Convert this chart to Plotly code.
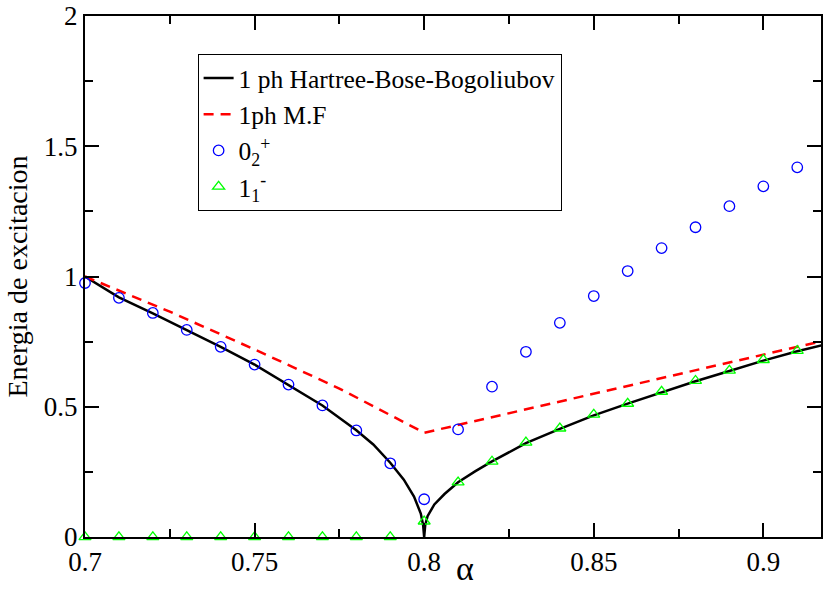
import plotly.graph_objects as go

# Excitation energy vs alpha
alpha_pts = [0.70, 0.71, 0.72, 0.73, 0.74, 0.75, 0.76, 0.77, 0.78, 0.79, 0.80,
             0.81, 0.82, 0.83, 0.84, 0.85, 0.86, 0.87, 0.88, 0.89, 0.90, 0.91]

# 0_2^+ state
e_02plus = [0.975, 0.918, 0.860, 0.795, 0.730, 0.662, 0.585, 0.505, 0.409, 0.283, 0.145,
            0.413, 0.577, 0.711, 0.822, 0.925, 1.021, 1.109, 1.189, 1.270, 1.346, 1.419]

# 1_1^- state
e_11minus = [0.0, 0.0, 0.0, 0.0, 0.0, 0.0, 0.0, 0.0, 0.0, 0.0, 0.06,
             0.21, 0.29, 0.363, 0.417, 0.47, 0.512, 0.558, 0.60, 0.639, 0.68, 0.715]

# 1 ph Hartree-Bose-Bogoliubov curve
hbb_alpha = [0.70, 0.71, 0.72, 0.73, 0.74, 0.75, 0.76, 0.77, 0.78, 0.785, 0.79, 0.794,
             0.797, 0.799, 0.7997, 0.80, 0.8003, 0.801, 0.803, 0.806, 0.81, 0.815,
             0.82, 0.83, 0.84, 0.85, 0.86, 0.87, 0.88, 0.89, 0.90, 0.91, 0.92]
hbb_energy = [1.0, 0.92, 0.858, 0.795, 0.73, 0.662, 0.585, 0.505, 0.41, 0.355, 0.285, 0.22,
              0.155, 0.09, 0.045, 0.0, 0.045, 0.08, 0.125, 0.165, 0.21, 0.252,
              0.29, 0.36, 0.415, 0.467, 0.512, 0.556, 0.598, 0.637, 0.677, 0.713, 0.745]

# 1ph mean-field curve
mf_alpha = [0.70, 0.725, 0.75, 0.775, 0.80, 0.84, 0.88, 0.92]
mf_energy = [1.0, 0.865, 0.72, 0.57, 0.40, 0.52, 0.64, 0.76]

FONT = "Liberation Serif, Times New Roman, serif"

fig = go.Figure()
fig.add_trace(go.Scatter(
    x=hbb_alpha, y=hbb_energy, mode="lines",
    line=dict(color="black", width=2.5),
    name="1 ph Hartree-Bose-Bogoliubov"))
fig.add_trace(go.Scatter(
    x=mf_alpha, y=mf_energy, mode="lines",
    line=dict(color="#ff0000", width=2.5, dash="10px,7px"),
    name="1ph M.F"))
fig.add_trace(go.Scatter(
    x=alpha_pts, y=e_02plus, mode="markers", cliponaxis=False,
    marker=dict(symbol="circle-open", size=10.5, color="#0000ff", line=dict(width=1.3)),
    name="0<sub>2</sub><sup>+</sup>"))
fig.add_trace(go.Scatter(
    x=alpha_pts, y=e_11minus, mode="markers", cliponaxis=False,
    marker=dict(symbol="triangle-up-open", size=10.5, color="#00ff00", line=dict(width=1.3)),
    name="1<sub>1</sub><sup>-</sup>"))

axis_common = dict(
    showline=True, linecolor="black", linewidth=2, mirror="ticks",
    ticks="inside", ticklen=14, tickwidth=1.5, tickcolor="black",
    showgrid=False, zeroline=False, ticklabeloverflow="allow",
    tickfont=dict(family=FONT, size=27, color="black"),
)

fig.update_xaxes(
    range=[0.7, 0.917], tickvals=[0.7, 0.75, 0.8, 0.85, 0.9],
    ticktext=["0.7", "0.75", "0.8", "0.85", "0.9"],
    minor=dict(ticks="inside", ticklen=8, tickwidth=1.5, tickcolor="black",
               tickvals=[0.725, 0.775, 0.825, 0.875]),
    **axis_common)
fig.update_yaxes(
    range=[0, 2], tickvals=[0, 0.5, 1, 1.5, 2],
    ticktext=["0", "0.5", "1", "1.5", "2"],
    minor=dict(ticks="inside", ticklen=8, tickwidth=1.5, tickcolor="black",
               tickvals=[0.25, 0.75, 1.25, 1.75]),
    title=dict(text="Energia de excitacion", font=dict(family=FONT, size=28, color="black"),
               standoff=8),
    **axis_common)

fig.add_annotation(
    text="α", xref="paper", yref="paper", x=0.516, y=-0.099,
    showarrow=False, yanchor="bottom",
    font=dict(family=FONT, size=34, color="black"))

fig.update_layout(
    width=824, height=590,
    margin=dict(l=85, r=1, t=14, b=53),
    plot_bgcolor="white", paper_bgcolor="white",
    showlegend=True,
    legend=dict(
        x=0.153, y=0.927, xanchor="left", yanchor="top",
        bordercolor="black", borderwidth=1, bgcolor="white",
        font=dict(family=FONT, size=25.5, color="black"),
        itemwidth=30, tracegroupgap=0,
    ),
)

fig.write_html("out.html")
